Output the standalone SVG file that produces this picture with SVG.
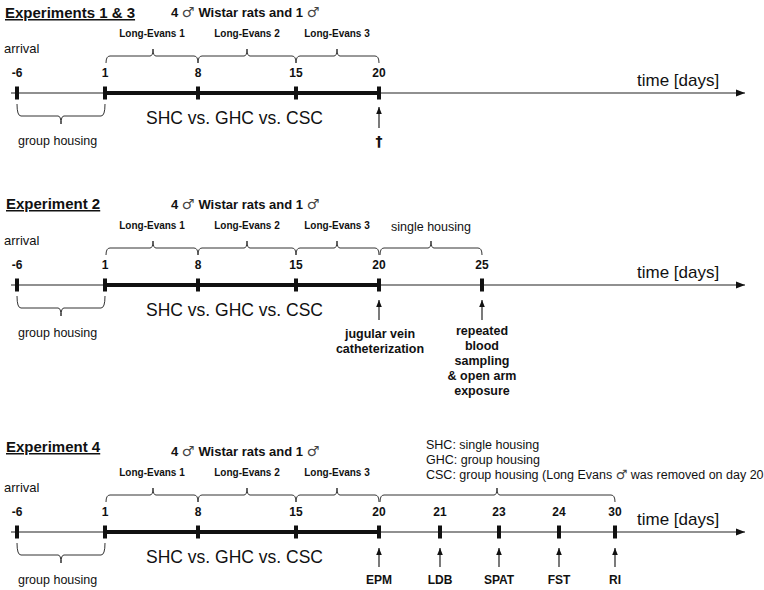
<svg xmlns="http://www.w3.org/2000/svg" width="764" height="590" viewBox="0 0 764 590">
<defs>
<style>
text{font-family:"Liberation Sans",Arial,sans-serif;fill:#111}
.title{font-size:15px;font-weight:bold;text-decoration:underline}
.rats{font-size:13px;font-weight:bold}
.sym{font-family:"DejaVu Sans",sans-serif;font-weight:normal;font-size:14px;fill:#444}
.le{font-size:10px;font-weight:bold;text-anchor:middle}
.tk{font-size:12px;font-weight:bold;text-anchor:middle}
.reg{font-size:12.5px}
.big{font-size:17.5px}
.time{font-size:17px}
.lab{font-size:12px;font-weight:bold;text-anchor:middle}
.dag{font-family:"DejaVu Sans",sans-serif;font-weight:bold;font-size:14px;text-anchor:middle;fill:#111}
.axis{stroke:#222;stroke-width:1.2;fill:none}
.thick{stroke:#111;stroke-width:4;fill:none}
.brace{stroke:#333;stroke-width:1;fill:none}
.arr{stroke:#222;stroke-width:1.2;fill:none;marker-end:url(#ah)}
.tick{fill:#111}
</style>
<marker id="ah" viewBox="0 0 10 10" refX="10" refY="5" markerWidth="7" markerHeight="7" markerUnits="userSpaceOnUse" orient="auto"><path d="M0,1 L10,5 L0,9 Z" fill="#111"/></marker>
<marker id="axh" viewBox="0 0 10 10" refX="10" refY="5" markerWidth="9" markerHeight="9" markerUnits="userSpaceOnUse" orient="auto"><path d="M0,1 L10,5 L0,9 Z" fill="#111"/></marker>
<g id="ticks">
<rect class="tick" x="15" y="86.5" width="4" height="13"/>
<rect class="tick" x="103" y="86.5" width="4" height="13"/>
<rect class="tick" x="196" y="86.5" width="4" height="13"/>
<rect class="tick" x="294" y="86.5" width="4" height="13"/>
<rect class="tick" x="377" y="86.5" width="4" height="13"/>
</g>
<g id="base">
<text class="rats" x="171" y="16.5">4 <tspan class="sym">♂</tspan><tspan dx="4">Wistar rats and 1 </tspan><tspan class="sym">♂</tspan></text>
<text class="le" x="152" y="37">Long-Evans 1</text>
<text class="le" x="247" y="37">Long-Evans 2</text>
<text class="le" x="337" y="37">Long-Evans 3</text>
<path class="brace" d="M106,63 Q106,56 110,56 L150,56 Q153,56 153,49 Q153,56 156,56 L194,56 Q198,56 198,63"/>
<path class="brace" d="M198,63 Q198,56 202,56 L244,56 Q247,56 247,49 Q247,56 250,56 L292,56 Q296,56 296,63"/>
<path class="brace" d="M296,63 Q296,56 300,56 L334,56 Q337,56 337,49 Q337,56 340,56 L375,56 Q379,56 379,63"/>
<text class="reg" x="4" y="53" style="font-size:13px">arrival</text>
<text class="tk" x="17" y="77">-6</text>
<text class="tk" x="105" y="77">1</text>
<text class="tk" x="198" y="77">8</text>
<text class="tk" x="296" y="77">15</text>
<text class="tk" x="379" y="77">20</text>
<line class="axis" x1="11" y1="93" x2="745" y2="93" style="marker-end:url(#axh)"/>
<line class="thick" x1="105" y1="93" x2="379" y2="93"/>
<use href="#ticks"/>
<path class="brace" d="M17,104 Q17,116 21,116 L58,116 Q61,116 61,124 Q61,116 64,116 L101,116 Q105,116 105,104"/>
<text class="reg" x="18" y="145">group housing</text>
<text class="big" x="146" y="124">SHC vs. GHC vs. CSC</text>
<text class="time" x="637" y="86">time [days]</text>
</g>
</defs>

<g id="experiment-1-3">
<text class="title" x="5" y="18">Experiments 1 &amp; 3</text>
<use href="#base"/>
<text class="dag" x="379" y="146">†</text>
</g>

<g id="experiment-2" transform="translate(0,192)">
<text class="title" x="6" y="17">Experiment 2</text>
<use href="#base"/>
<path class="brace" d="M380,63 Q380,56 384,56 L428,56 Q431,56 431,49 Q431,56 434,56 L478,56 Q482,56 482,63"/>
<text class="reg" x="431" y="39" style="text-anchor:middle">single housing</text>
<text class="tk" x="482" y="77">25</text>
<rect class="tick" x="480" y="86.5" width="4" height="13"/>
<text class="lab" x="380" y="146" style="font-size:12.5px">jugular vein</text>
<text class="lab" x="380" y="161" style="font-size:12.5px">catheterization</text>
<text class="lab" x="482" y="143" style="font-size:12.5px">repeated</text>
<text class="lab" x="482" y="158" style="font-size:12.5px">blood</text>
<text class="lab" x="482" y="173" style="font-size:12.5px">sampling</text>
<text class="lab" x="482" y="188" style="font-size:12.5px">&amp; open arm</text>
<text class="lab" x="482" y="203" style="font-size:12.5px">exposure</text>
</g>

<g id="experiment-4" transform="translate(0,439)">
<text class="title" x="6" y="13">Experiment 4</text>
<use href="#base"/>
<text class="reg" x="426" y="10">SHC: single housing</text>
<text class="reg" x="426" y="25">GHC: group housing</text>
<text class="reg" x="426" y="40">CSC: group housing (Long Evans <tspan class="sym" style="font-size:13px">♂</tspan> was removed on day 20</text>
<path class="brace" d="M380,63 Q380,56 384,56 L494,56 Q497,56 497,49 Q497,56 500,56 L611,56 Q615,56 615,63"/>
<text class="tk" x="440" y="77">21</text>
<text class="tk" x="499" y="77">23</text>
<text class="tk" x="559" y="77">24</text>
<text class="tk" x="615" y="77">30</text>
<rect class="tick" x="438" y="86.5" width="4" height="13"/>
<rect class="tick" x="497" y="86.5" width="4" height="13"/>
<rect class="tick" x="557" y="86.5" width="4" height="13"/>
<rect class="tick" x="613" y="86.5" width="4" height="13"/>
<text class="lab" x="379" y="145">EPM</text>
<text class="lab" x="440" y="145">LDB</text>
<text class="lab" x="499" y="145">SPAT</text>
<text class="lab" x="559" y="145">FST</text>
<text class="lab" x="615" y="145">RI</text>
</g>

<g id="connectors">
<line class="arr" x1="379" y1="128" x2="379" y2="107"/>
<line class="arr" x1="379" y1="320" x2="379" y2="300"/>
<line class="arr" x1="482" y1="320" x2="482" y2="300"/>
<line class="arr" x1="379" y1="567" x2="379" y2="548"/>
<line class="arr" x1="440" y1="567" x2="440" y2="548"/>
<line class="arr" x1="499" y1="567" x2="499" y2="548"/>
<line class="arr" x1="559" y1="567" x2="559" y2="548"/>
<line class="arr" x1="615" y1="567" x2="615" y2="548"/>
</g>
</svg>
